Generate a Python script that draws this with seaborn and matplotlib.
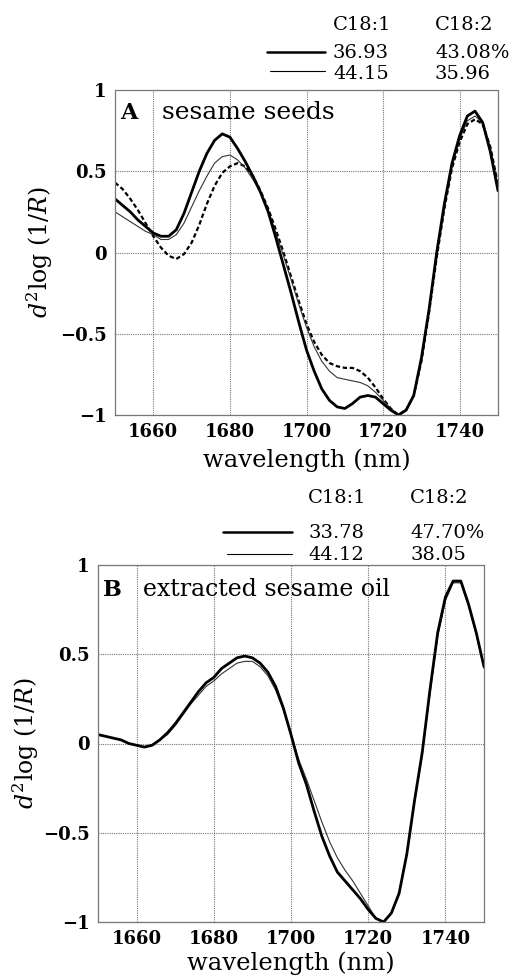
import numpy as np
import matplotlib
matplotlib.use('Agg')
import matplotlib.pyplot as plt
from matplotlib.lines import Line2D
import seaborn as sns

# wavelength grid (nm) shared by all spectra
wavelength = [1650, 1652, 1654, 1656, 1658, 1660, 1662, 1664, 1666, 1668,
              1670, 1672, 1674, 1676, 1678, 1680, 1682, 1684, 1686, 1688,
              1690, 1692, 1694, 1696, 1698, 1700, 1702, 1704, 1706, 1708,
              1710, 1712, 1714, 1716, 1718, 1720, 1722, 1724, 1726, 1728,
              1730, 1732, 1734, 1736, 1738, 1740, 1742, 1744, 1746, 1748, 1750]

# A: sesame seeds
seeds_thick = [0.33, 0.29, 0.25, 0.20, 0.16, 0.12, 0.10, 0.10, 0.14, 0.24,
               0.37, 0.50, 0.61, 0.69, 0.73, 0.71, 0.64, 0.56, 0.47, 0.37,
               0.25, 0.09, -0.08, -0.25, -0.43, -0.60, -0.73, -0.84, -0.91, -0.95,
               -0.96, -0.93, -0.89, -0.88, -0.89, -0.93, -0.97, -1.00, -0.97, -0.88,
               -0.65, -0.35, 0.00, 0.30, 0.55, 0.72, 0.84, 0.87, 0.80, 0.62, 0.38]
seeds_thin = [0.25, 0.22, 0.19, 0.16, 0.13, 0.11, 0.08, 0.08, 0.11, 0.18,
              0.28, 0.38, 0.47, 0.55, 0.59, 0.60, 0.57, 0.52, 0.45, 0.37,
              0.26, 0.12, -0.02, -0.17, -0.32, -0.46, -0.58, -0.67, -0.73, -0.77,
              -0.78, -0.79, -0.80, -0.82, -0.86, -0.91, -0.96, -1.00, -0.97, -0.88,
              -0.66, -0.36, -0.02, 0.28, 0.53, 0.70, 0.81, 0.84, 0.80, 0.64, 0.40]
seeds_dash = [0.43, 0.39, 0.33, 0.26, 0.18, 0.10, 0.03, -0.02, -0.04, -0.01,
              0.06, 0.17, 0.30, 0.41, 0.49, 0.53, 0.55, 0.53, 0.47, 0.38,
              0.27, 0.14, 0.00, -0.15, -0.30, -0.44, -0.55, -0.63, -0.68, -0.70,
              -0.71, -0.71, -0.73, -0.77, -0.83, -0.90, -0.96, -1.00, -0.97, -0.88,
              -0.67, -0.37, -0.03, 0.27, 0.52, 0.68, 0.79, 0.82, 0.79, 0.65, 0.42]

# B: extracted sesame oil
oil_thick = [0.05, 0.04, 0.03, 0.02, 0.00, -0.01, -0.02, -0.01, 0.02, 0.06,
             0.11, 0.17, 0.23, 0.29, 0.34, 0.37, 0.42, 0.45, 0.48, 0.49,
             0.48, 0.45, 0.40, 0.32, 0.20, 0.05, -0.11, -0.23, -0.38, -0.52,
             -0.63, -0.72, -0.77, -0.82, -0.87, -0.93, -0.98, -1.00, -0.95, -0.84,
             -0.62, -0.32, -0.05, 0.30, 0.62, 0.82, 0.91, 0.91, 0.78, 0.62, 0.43]
oil_thin = [0.05, 0.04, 0.03, 0.02, 0.00, -0.01, -0.02, -0.01, 0.02, 0.05,
            0.10, 0.16, 0.22, 0.27, 0.32, 0.35, 0.39, 0.42, 0.45, 0.46,
            0.46, 0.43, 0.38, 0.30, 0.19, 0.05, -0.09, -0.20, -0.32, -0.44,
            -0.55, -0.64, -0.71, -0.77, -0.84, -0.91, -0.98, -1.00, -0.95, -0.84,
            -0.62, -0.33, -0.06, 0.28, 0.60, 0.80, 0.90, 0.90, 0.77, 0.61, 0.42]

xticks = [1660, 1680, 1700, 1720, 1740]
yticks = [-1, -0.5, 0, 0.5, 1]
ytick_labels = ['\u22121', '\u22120.5', '0', '0.5', '1']

legend_a = [['C18:1', 'C18:2'], ['36.93', '43.08%'], ['44.15', '35.96']]
legend_b = [['C18:1', 'C18:2'], ['33.78', '47.70%'], ['44.12', '38.05']]

sns.set_style('white')
plt.rcParams['font.family'] = ['DejaVu Serif']
plt.rcParams['mathtext.fontset'] = 'dejavuserif'
plt.rcParams['text.color'] = 'black'
plt.rcParams['axes.labelcolor'] = 'black'
plt.rcParams['xtick.color'] = 'black'
plt.rcParams['ytick.color'] = 'black'

W, H = 519, 976
fig = plt.figure(figsize=(W / 100, H / 100), dpi=100)


def px_rect(left, top, right, bottom):
    return [left / W, 1 - bottom / H, (right - left) / W, (bottom - top) / H]


def style_axes(ax, ylab_x, xlab_y):
    ax.set_xlim(1650, 1750)
    ax.set_ylim(-1, 1)
    ax.set_xticks(xticks)
    ax.set_yticks(yticks)
    ax.set_yticklabels(ytick_labels)
    ax.grid(True, color='#777777', linestyle=(0, (1, 1)), linewidth=0.8)
    for s in ax.spines.values():
        s.set_color('#777777')
        s.set_linestyle((0, (1, 1)))
        s.set_linewidth(0.9)
    ax.tick_params(length=0, labelsize=13, pad=6)
    for lab in ax.get_xticklabels() + ax.get_yticklabels():
        lab.set_fontweight('bold')
    ax.set_xlabel('wavelength (nm)', fontsize=17.5, va='center')
    ax.xaxis.set_label_coords(0.5, xlab_y)
    ax.set_ylabel('$d^2$log (1/$R$)', fontsize=17, va='center')
    ax.yaxis.set_label_coords(ylab_x, 0.5)


def draw_legend(rows, x_col1, x_col2, ys, line_rows):
    for (c1, c2), y in zip(rows, ys):
        fig.text(x_col1 / W, 1 - y / H, c1, fontsize=14, va='center', ha='left')
        fig.text(x_col2 / W, 1 - y / H, c2, fontsize=14, va='center', ha='left')
    for (x0, x1, y, lw) in line_rows:
        fig.add_artist(Line2D([x0 / W, x1 / W], [1 - y / H, 1 - y / H],
                              color='black', linewidth=lw, transform=fig.transFigure))


# Panel A
axA = fig.add_axes(px_rect(115, 90, 498, 415))
sns.lineplot(x=wavelength, y=seeds_dash, ax=axA, color='black', linewidth=1.6,
             linestyle=(0, (2, 1.2)))
sns.lineplot(x=wavelength, y=seeds_thin, ax=axA, color='#333333', linewidth=0.8)
sns.lineplot(x=wavelength, y=seeds_thick, ax=axA, color='black', linewidth=2.0)
style_axes(axA, -0.196, -0.138)
axA.text(0.013, 0.93, 'A', transform=axA.transAxes, fontsize=16, fontweight='bold',
         va='center', ha='left')
axA.text(0.122, 0.93, 'sesame seeds', transform=axA.transAxes, fontsize=18,
         va='center', ha='left')
draw_legend(legend_a, 333, 435, [25, 53, 74],
            [(267, 325, 52, 1.8), (270, 325, 71, 0.8)])

# Panel B
axB = fig.add_axes(px_rect(98, 565, 484, 922))
sns.lineplot(x=wavelength, y=oil_thin, ax=axB, color='#333333', linewidth=0.8)
sns.lineplot(x=wavelength, y=oil_thick, ax=axB, color='black', linewidth=2.0)
style_axes(axB, -0.187, -0.115)
axB.text(0.013, 0.93, 'B', transform=axB.transAxes, fontsize=16, fontweight='bold',
         va='center', ha='left')
axB.text(0.117, 0.93, 'extracted sesame oil', transform=axB.transAxes, fontsize=17,
         va='center', ha='left')
draw_legend(legend_b, 308, 410, [498, 533, 555],
            [(223, 292, 532, 1.8), (227, 292, 554, 0.8)])

fig.savefig('out.png', dpi=100)
